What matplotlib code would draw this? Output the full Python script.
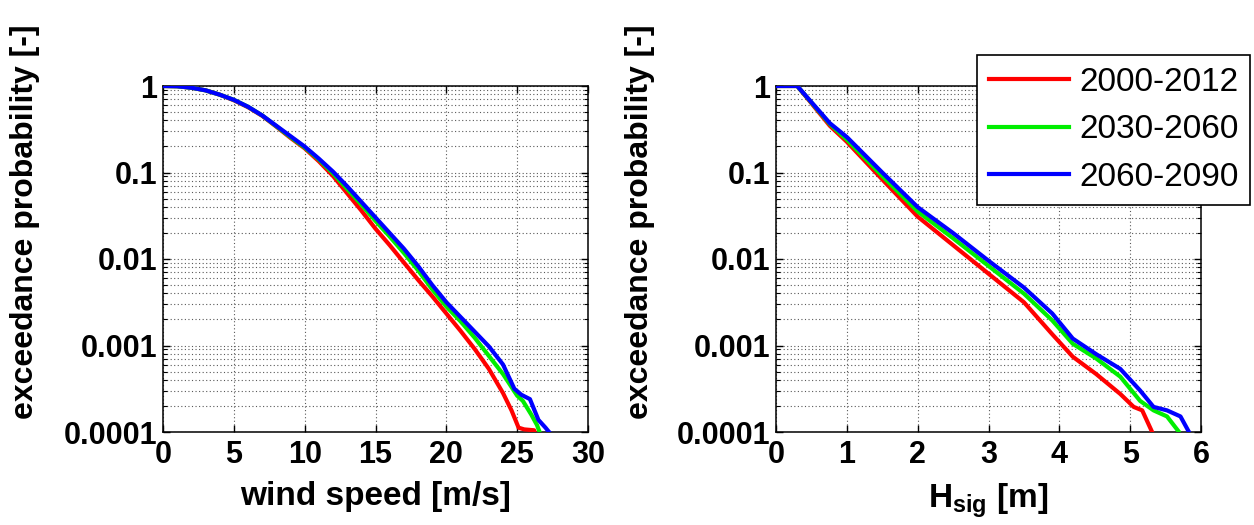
import numpy as np
import matplotlib
matplotlib.use("Agg")
import matplotlib.pyplot as plt
from matplotlib.ticker import FixedLocator, FixedFormatter, LogLocator, NullFormatter

# ---------------- data ----------------
series_labels = ["2000-2012", "2030-2060", "2060-2090"]
series_colors = ["#ff0000", "#00ee00", "#0000ff"]

# wind speed panel: x in m/s, values as log10(exceedance probability)
wind_x_red = [0, 1, 2, 3, 4, 5, 6, 7, 8, 9, 10, 11, 12, 13, 14, 15, 16, 17, 18, 19, 20,
              21, 22, 23, 24, 24.6, 25.1, 25.5, 26.2, 26.4]
wind_lp_red = [0, -0.003, -0.02, -0.05, -0.10, -0.165, -0.245, -0.345, -0.47, -0.60, -0.72,
               -0.87, -1.04, -1.24, -1.44, -1.65, -1.84, -2.04, -2.24, -2.43, -2.63,
               -2.83, -3.04, -3.27, -3.55, -3.75, -3.95, -3.97, -3.98, -4.1]

wind_x_green = [0, 1, 2, 3, 4, 5, 6, 7, 8, 9, 10, 11, 12, 13, 14, 15, 16, 17, 18, 19, 20,
                21, 22, 23, 24, 25, 25.4, 26.0, 26.4, 26.7]
wind_lp_green = [0, -0.003, -0.02, -0.05, -0.10, -0.16, -0.24, -0.34, -0.465, -0.59, -0.71,
                 -0.85, -1.01, -1.19, -1.37, -1.56, -1.74, -1.93, -2.13, -2.35, -2.55,
                 -2.72, -2.91, -3.12, -3.33, -3.58, -3.64, -3.80, -3.92, -4.05]

wind_x_blue = [0, 1, 2, 3, 4, 5, 6, 7, 8, 9, 10, 11, 12, 13, 14, 15, 16, 17, 18, 19, 20,
               21, 22, 23, 24, 24.8, 25.3, 25.9, 26.5, 27.0, 27.5]
wind_lp_blue = [0, -0.003, -0.02, -0.05, -0.10, -0.16, -0.24, -0.34, -0.46, -0.58, -0.70,
                -0.84, -0.99, -1.16, -1.34, -1.52, -1.70, -1.88, -2.08, -2.30, -2.50,
                -2.67, -2.84, -3.01, -3.22, -3.50, -3.57, -3.62, -3.86, -3.95, -4.05]

# significant wave height panel: x in m, values as log10(exceedance probability)
hs_x_red = [0, 0.3, 0.76, 1.0, 1.5, 2.0, 2.5, 3.0, 3.5, 3.9, 4.19, 4.52, 4.86, 5.05, 5.17, 5.31, 5.34]
hs_lp_red = [0, 0, -0.46, -0.645, -1.08, -1.51, -1.84, -2.17, -2.50, -2.87, -3.13, -3.33, -3.56,
             -3.71, -3.75, -4.0, -4.05]

hs_x_green = [0, 0.3, 0.76, 1.0, 1.5, 2.0, 2.5, 3.0, 3.5, 3.9, 4.19, 4.52, 4.86, 5.14, 5.33, 5.52, 5.69, 5.72]
hs_lp_green = [0, 0, -0.44, -0.62, -1.04, -1.45, -1.76, -2.08, -2.40, -2.71, -2.98, -3.15, -3.36,
               -3.64, -3.75, -3.82, -4.0, -4.05]

hs_x_blue = [0, 0.3, 0.76, 1.0, 1.5, 2.0, 2.5, 3.0, 3.5, 3.9, 4.19, 4.52, 4.86, 5.14, 5.33, 5.52, 5.71, 5.83, 5.86]
hs_lp_blue = [0, 0, -0.43, -0.59, -1.00, -1.40, -1.70, -2.02, -2.33, -2.63, -2.92, -3.10, -3.27,
              -3.52, -3.71, -3.75, -3.82, -4.0, -4.05]

y_ticks = [1e-4, 1e-3, 1e-2, 1e-1, 1]
y_ticklabels = ["0.0001", "0.001", "0.01", "0.1", "1"]
wind_xticks = [0, 5, 10, 15, 20, 25, 30]
hs_xticks = [0, 1, 2, 3, 4, 5, 6]
ylabel_text = "exceedance probability [-]"
wind_xlabel = "wind speed [m/s]"
hs_xlabel = r"H$_{\rm sig}$ [m]"

# ---------------- style ----------------
FAM = ["Liberation Sans", "DejaVu Sans"]
plt.rcParams["font.family"] = FAM
plt.rcParams["mathtext.fontset"] = "custom"
plt.rcParams["mathtext.rm"] = "Liberation Sans:bold"
plt.rcParams["mathtext.it"] = "Liberation Sans:bold"
plt.rcParams["mathtext.bf"] = "Liberation Sans:bold"

fig = plt.figure(figsize=(12.54, 5.25), dpi=100)
W, H = 1254, 525
ax1 = fig.add_axes([163 / W, 1 - 432 / H, (588 - 163) / W, (432 - 86) / H])
ax2 = fig.add_axes([776 / W, 1 - 432 / H, (1201 - 776) / W, (432 - 86) / H])

panels = [
    (ax1, [(wind_x_red, wind_lp_red), (wind_x_green, wind_lp_green), (wind_x_blue, wind_lp_blue)],
     (0, 30), wind_xticks, wind_xlabel, -0.29),
    (ax2, [(hs_x_red, hs_lp_red), (hs_x_green, hs_lp_green), (hs_x_blue, hs_lp_blue)],
     (0, 6), hs_xticks, hs_xlabel, -0.285),
]

grid_kw = dict(color="0.35", linestyle=(0, (1, 2.2)), linewidth=0.8)

for ax, data, xlim, xticks, xlabel, ylab_x in panels:
    for (xs, lps), col, lab in zip(data, series_colors, series_labels):
        ax.plot(xs, 10 ** np.asarray(lps, dtype=float), color=col, lw=3.0, label=lab,
                solid_joinstyle="round", zorder=3)
    ax.set_yscale("log")
    ax.set_ylim(1e-4, 1)
    ax.set_xlim(*xlim)
    ax.yaxis.set_major_locator(FixedLocator(y_ticks))
    ax.yaxis.set_major_formatter(FixedFormatter(y_ticklabels))
    ax.yaxis.set_minor_locator(LogLocator(base=10, subs=np.arange(2, 10)))
    ax.yaxis.set_minor_formatter(NullFormatter())
    ax.set_xticks(xticks)
    ax.set_xticklabels([str(t) for t in xticks])
    ax.grid(True, which="major", axis="both", **grid_kw)
    ax.grid(True, which="minor", axis="y", **grid_kw)
    ax.tick_params(which="both", direction="in", top=True, right=True)
    ax.tick_params(which="major", length=5, width=1.0, labelsize=22, pad=6)
    ax.tick_params(which="minor", length=3, width=0.8)
    ax.tick_params(axis="y", which="major", pad=4)
    for lbl in ax.get_xticklabels() + ax.get_yticklabels():
        lbl.set_fontweight("bold")
    for sp in ax.spines.values():
        sp.set_linewidth(1.1)
    ax.set_ylabel(ylabel_text, fontsize=23, fontweight="bold")
    ax.yaxis.set_label_coords(ylab_x, 0.607)
    ax.set_xlabel(xlabel, fontsize=24, fontweight="bold", labelpad=8)

leg = ax2.legend(loc="upper right", bbox_to_anchor=(1250 / W, 1 - 55 / H),
                 bbox_transform=fig.transFigure, borderaxespad=0, fancybox=False,
                 framealpha=1, edgecolor="black", handlelength=2.4,
                 handletextpad=0.3, labelspacing=0.5, borderpad=0.35,
                 prop={"family": ["Liberation Sans", "DejaVu Sans"], "size": 24})
leg.get_frame().set_linewidth(1.2)
leg.set_zorder(10)

fig.savefig("out.png", dpi=100)
